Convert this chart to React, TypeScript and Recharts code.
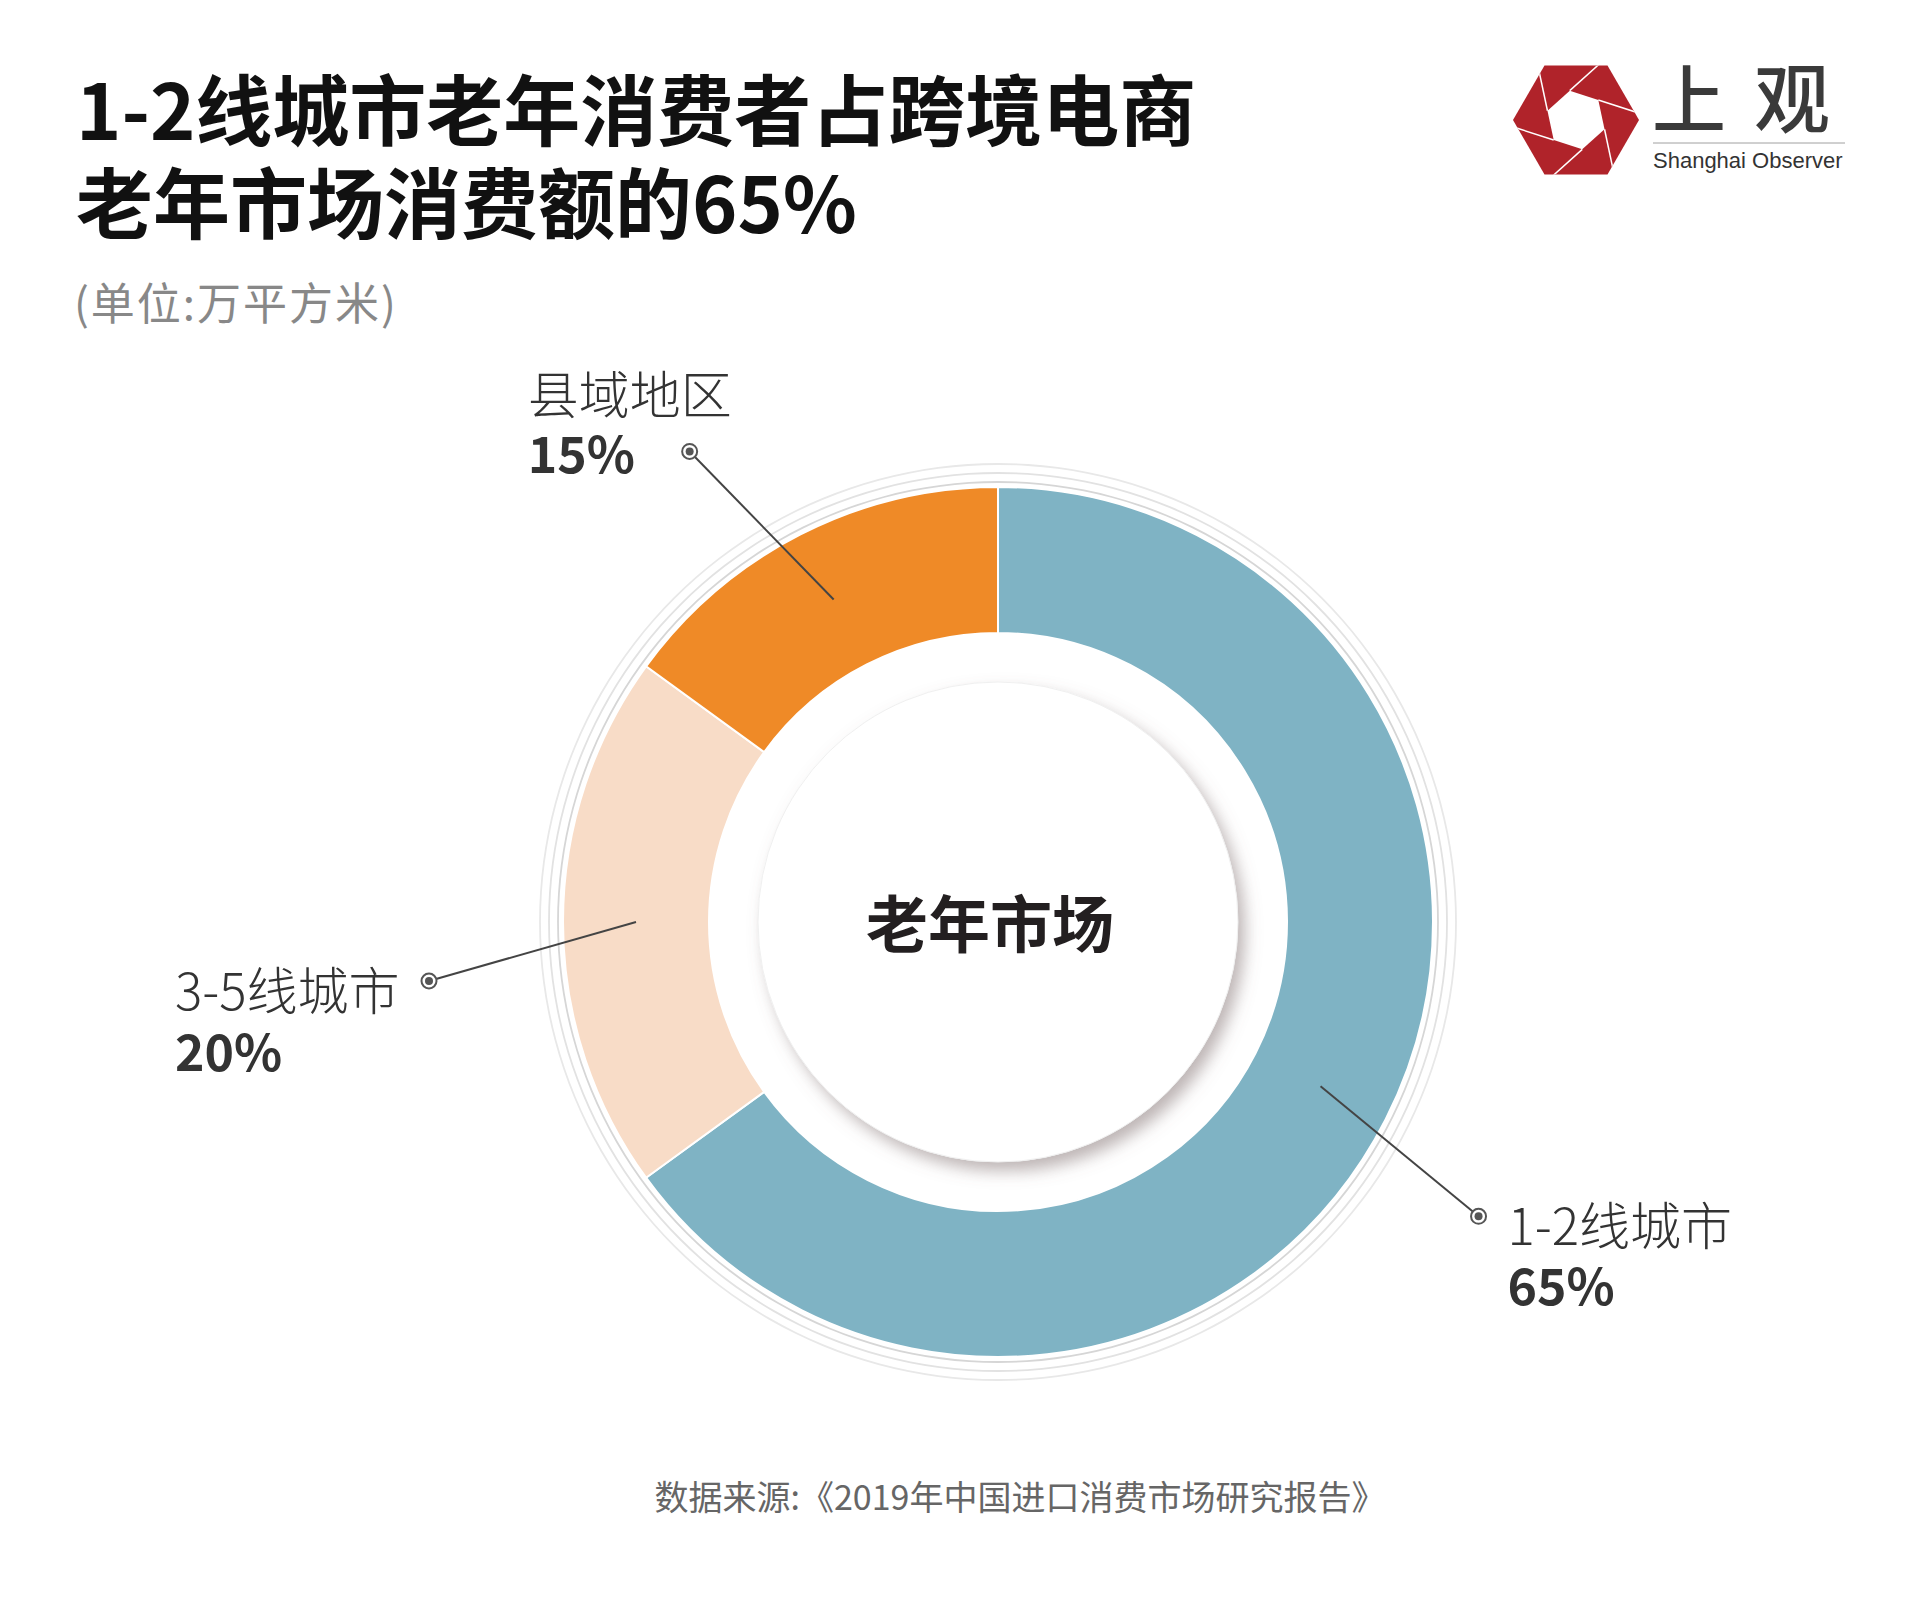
import { PieChart, Pie, Cell } from "recharts";

const FONT = "'Noto Sans CJK SC', 'Noto Sans', sans-serif";
const RAD = Math.PI / 180;

// data
const categories = ["1-2线城市", "3-5线城市", "县域地区"];
const shares = [65, 20, 15];
const colors = ["#7fb3c4", "#f8dcc7", "#ef8a27"];

const titleLines = ["1-2线城市老年消费者占跨境电商", "老年市场消费额的65%"];
const unitText = "(单位:万平方米)";
const centerText = "老年市场";
const sourceText = "数据来源:《2019年中国进口消费市场研究报告》";

const marketData = categories.map((name, i) => ({ name, value: shares[i] }));

// decorative rings around the donut
const ringData = [{ v: 1 }];
const ringRadii = [440, 449, 458];
const ringColors = ["#d6d6d6", "#e2e2e2", "#e8e8e8"];

// leader line / label placement per slice (offsets from the slice mid point)
const labelLayout = [
  { dx: 158, dy: 130, textDx: 29, nameDy: 29, pctDy: 89 },
  { dx: -207, dy: 59, textDx: -254, nameDy: 29, pctDy: 90 },
  { dx: -144, dy: -148, textDx: -162, nameDy: -37, pctDy: 22 },
];

const CX = 998;
const CY = 922;

function renderLabel(props: any) {
  const { cx, cy, midAngle, innerRadius, outerRadius, index, value } = props;
  const name = props.name ?? props.payload?.name;
  const r = (innerRadius + outerRadius) / 2;
  const sx = cx + r * Math.cos(-midAngle * RAD);
  const sy = cy + r * Math.sin(-midAngle * RAD);
  const l = labelLayout[index];
  const mx = sx + l.dx;
  const my = sy + l.dy;
  return (
    <g key={`lbl-${index}`}>
      <line x1={sx} y1={sy} x2={mx} y2={my} stroke="#444" strokeWidth={2} />
      <circle cx={mx} cy={my} r={7.5} fill="#fff" stroke="#555" strokeWidth={2} />
      <circle cx={mx} cy={my} r={4} fill="#555" />
      <text x={mx + l.textDx} y={my + l.nameDy} fontFamily={FONT} fontSize={51} fontWeight={300} fill="#333">
        {name}
      </text>
      <text x={mx + l.textDx} y={my + l.pctDy} fontFamily={FONT} fontSize={50} fontWeight={700} fill="#333">
        {value}%
      </text>
    </g>
  );
}

function hexPoints(cx: number, cy: number, r: number, rot: number) {
  return Array.from({ length: 6 }, (_, i) => {
    const a = (60 * i + rot) * RAD;
    return [cx + r * Math.cos(a), cy + r * Math.sin(a)];
  });
}

function Logo() {
  const c = [1576, 120];
  const outer = hexPoints(c[0], c[1], 63, 0);
  const inner = hexPoints(c[0], c[1], 30, 18);
  const blades = inner.map((p, i) => {
    const prev = inner[(i + 5) % 6];
    const vx = p[0] - prev[0];
    const vy = p[1] - prev[1];
    const len = Math.hypot(vx, vy);
    return [p[0], p[1], p[0] + (vx / len) * 120, p[1] + (vy / len) * 120];
  });
  return (
    <g>
      <defs>
        <clipPath id="hexClip">
          <polygon points={outer.map((p) => p.join(",")).join(" ")} />
        </clipPath>
      </defs>
      <polygon points={outer.map((p) => p.join(",")).join(" ")} fill="#b0232a" />
      <g clipPath="url(#hexClip)">
        {blades.map((b, i) => (
          <line key={i} x1={b[0]} y1={b[1]} x2={b[2]} y2={b[3]} stroke="#fff" strokeWidth={1.5} />
        ))}
      </g>
      <polygon points={inner.map((p) => p.join(",")).join(" ")} fill="#fff" />
      <text x={1652} y={127} fontFamily={FONT} fontSize={74} fontWeight={500} fill="#3a3a3a">
        上
      </text>
      <text x={1754} y={127} fontFamily={FONT} fontSize={76} fontWeight={500} fill="#3a3a3a">
        观
      </text>
      <line x1={1653} y1={143} x2={1845} y2={143} stroke="#a0a0a0" strokeWidth={1} />
      <text x={1653} y={168} fontFamily="'Liberation Sans', Arial, sans-serif" fontSize={22} fill="#333">
        Shanghai Observer
      </text>
    </g>
  );
}

export default function App() {
  return (
    <div
      style={{
        position: "absolute",
        left: 0,
        top: 0,
        width: 1920,
        height: 1603,
        background: "#fff",
        overflow: "hidden",
        fontFamily: FONT,
      }}
    >
      <div style={{ position: "absolute", left: 0, top: 0 }}>
        <PieChart width={1920} height={1603} margin={{ top: 0, right: 0, bottom: 0, left: 0 }}>
          {ringRadii.map((r, i) => (
            <Pie
              key={`ring-${i}`}
              data={ringData}
              dataKey="v"
              cx={CX}
              cy={CY}
              innerRadius={r - 0.9}
              outerRadius={r + 0.9}
              fill={ringColors[i]}
              stroke="none"
              isAnimationActive={false}
            />
          ))}
          <Pie
            data={marketData}
            dataKey="value"
            nameKey="name"
            cx={CX}
            cy={CY}
            innerRadius={289}
            outerRadius={435}
            startAngle={90}
            endAngle={-270}
            stroke="#fff"
            strokeWidth={2}
            label={renderLabel}
            labelLine={false}
            isAnimationActive={false}
          >
            {marketData.map((d, i) => (
              <Cell key={d.name} fill={colors[i]} />
            ))}
          </Pie>
        </PieChart>
      </div>
      <svg
        width={1920}
        height={1603}
        style={{ position: "absolute", left: 0, top: 0, pointerEvents: "none" }}
      >
        <defs>
          <filter id="diskShadow" x="-20%" y="-20%" width="140%" height="140%">
            <feDropShadow dx="7" dy="9" stdDeviation="8" floodColor="#7d6b6b" floodOpacity="0.5" />
          </filter>
        </defs>
        <text x={76} y={140} fontFamily={FONT} fontSize={77} fontWeight={700} fill="#111">
          {titleLines[0]}
        </text>
        <text x={76} y={233} fontFamily={FONT} fontSize={77} fontWeight={700} fill="#111">
          {titleLines[1]}
        </text>
        <text x={74} y={320} fontFamily={FONT} fontSize={44} fontWeight={400} letterSpacing={2} fill="#888">
          {unitText}
        </text>
        <Logo />
        <circle cx={CX} cy={CY} r={240} fill="#fff" filter="url(#diskShadow)" />
        <circle cx={CX} cy={CY} r={240} fill="none" stroke="#f0f0f0" strokeWidth={1} />
        <text x={990} y={948} textAnchor="middle" fontFamily={FONT} fontSize={62} fontWeight={700} fill="#231f20">
          {centerText}
        </text>
        <text x={1020} y={1510} textAnchor="middle" fontFamily={FONT} fontSize={34} fontWeight={400} fill="#666">
          {sourceText}
        </text>
      </svg>
    </div>
  );
}
